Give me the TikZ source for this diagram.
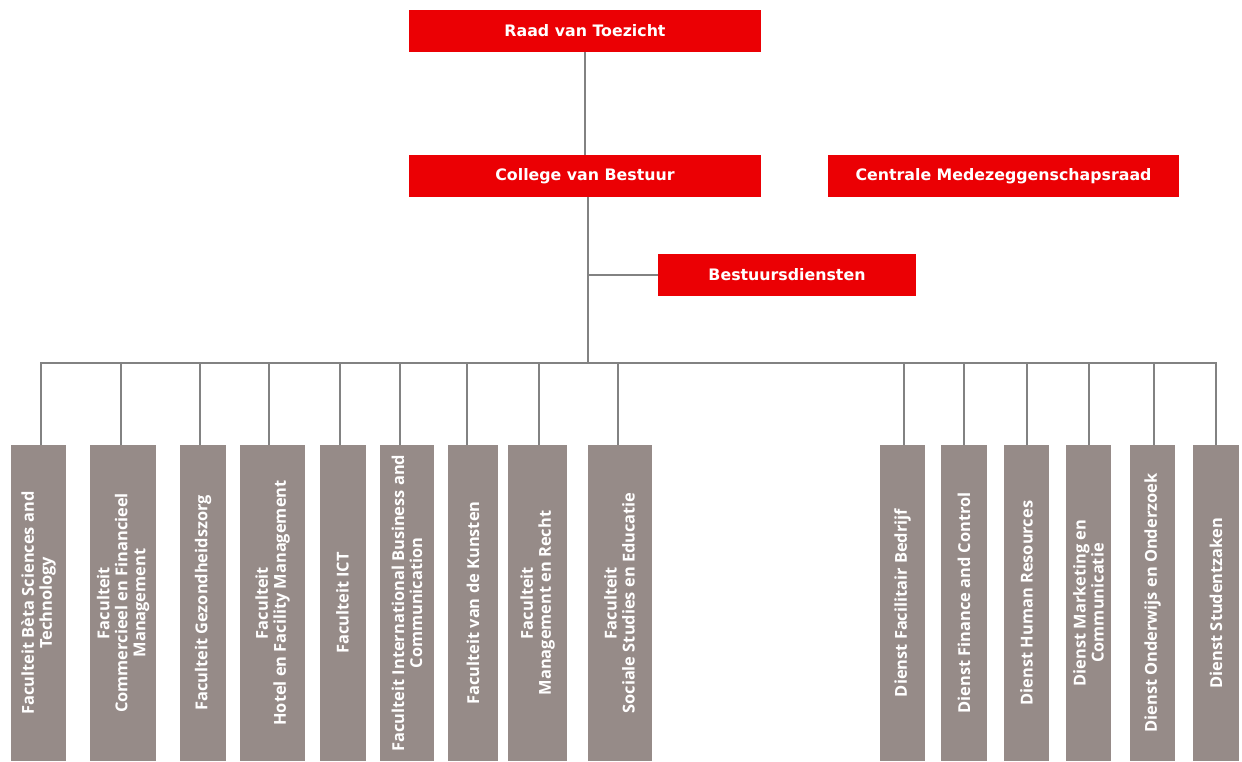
\documentclass[tikz,border=0pt]{standalone}
\usepackage{fontspec}
\setmainfont{DejaVu Sans}
\newfontfamily\eenheidfont{Open Sans}
\usetikzlibrary{positioning}
\definecolor{hogered}{RGB}{235,0,4}
\definecolor{taupe}{RGB}{150,139,136}
\definecolor{lijngrijs}{RGB}{130,130,130}
\tikzset{
  bestuur/.style={
    rectangle,
    fill=hogered,
    text=white,
    font=\bfseries\fontsize{15.8}{18}\selectfont,
    minimum width=352pt,
    minimum height=42pt,
    inner sep=0pt
  },
  eenheid/.style={
    rectangle,
    fill=taupe,
    text=white,
    rotate=90,
    align=center,
    font=\eenheidfont\bfseries\fontsize{16.4}{18}\selectfont,
    minimum width=316pt,
    inner sep=0pt
  },
  lijn/.style={
    draw=lijngrijs,
    line width=2pt
  }
}

\begin{document}
\begin{tikzpicture}[x=1pt, y=-1pt]
  \useasboundingbox (0,0) rectangle (1242,761);

  \node[bestuur] (rvt) at (585,31) {Raad van Toezicht};
  \node[bestuur] (cvb) at (585,176) {College van Bestuur};
  \node[bestuur, minimum width=351pt] (cmr) at (1003.5,176) {Centrale Medezeggenschapsraad};
  \node[bestuur, minimum width=258pt] (bd) at (787,275) {Bestuursdiensten};

  \node[eenheid, minimum height=55pt] (f1) at (38.5,603) {Faculteit Bèta Sciences and\\Technology};
  \node[eenheid, minimum height=66pt] (f2) at (123,603) {Faculteit\\Commercieel en Financieel\\Management};
  \node[eenheid, minimum height=46pt] (f3) at (203,603) {Faculteit Gezondheidszorg};
  \node[eenheid, minimum height=65pt] (f4) at (272.5,603) {Faculteit\\Hotel en Facility Management};
  \node[eenheid, minimum height=46pt] (f5) at (342.5,603) {Faculteit ICT};
  \node[eenheid, minimum height=54pt] (f6) at (407,603) {Faculteit International Business and\\Communication};
  \node[eenheid, minimum height=50pt] (f7) at (473,603) {Faculteit van de Kunsten};
  \node[eenheid, minimum height=59pt] (f8) at (537.5,603) {Faculteit\\Management en Recht};
  \node[eenheid, minimum height=64pt] (f9) at (619.5,603) {Faculteit\\Sociale Studies en Educatie};

  \node[eenheid, minimum height=45pt] (d1) at (902.5,603) {Dienst Facilitair Bedrijf};
  \node[eenheid, minimum height=46pt] (d2) at (964,603) {Dienst Finance and Control};
  \node[eenheid, minimum height=45pt] (d3) at (1026.5,603) {Dienst Human Resources};
  \node[eenheid, minimum height=45pt] (d4) at (1088.5,603) {Dienst Marketing en\\Communicatie};
  \node[eenheid, minimum height=45pt] (d5) at (1152.5,603) {Dienst Onderwijs en Onderzoek};
  \node[eenheid, minimum height=46pt] (d6) at (1216,603) {Dienst Studentzaken};

  \coordinate (bus) at (588,363);

  \draw[lijn] (rvt) -- (cvb);
  \draw[lijn] ([xshift=3pt]cvb.south) -- ([xshift=3pt]cvb.south |- bus);
  \draw[lijn] (bd.west) -- (bd.west -| bus);
  \draw[lijn] ([xshift=2.5pt]f1.east) -- ([xshift=2.5pt]f1.east |- bus) -- (d6.east |- bus) -- (d6.east);
  \foreach \n/\dx in {f2/-2, f3/-3, f4/-3.5, f5/-2.5, f6/-7, f7/-6, f8/1.5, f9/-1.5,
                      d1/1, d2/0, d3/0.5, d4/0.5, d5/1.5}
    \draw[lijn] ([xshift=\dx pt]\n.east) -- ([xshift=\dx pt]\n.east |- bus);
\end{tikzpicture}
\end{document}
